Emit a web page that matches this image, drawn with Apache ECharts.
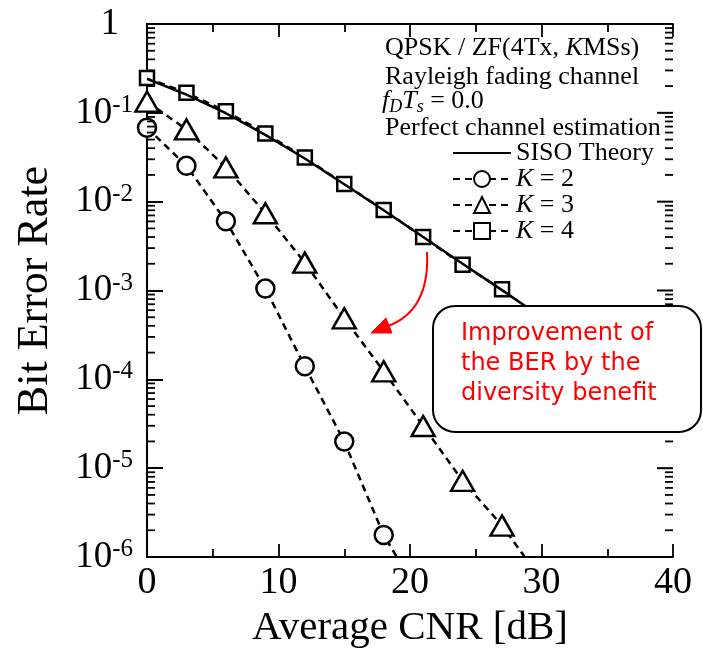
<!DOCTYPE html>
<html>
<head>
<meta charset="utf-8">
<script src="https://cdn.jsdelivr.net/npm/echarts@6/dist/echarts.min.js"></script>
<style>
html,body{margin:0;padding:0;background:#fff;}
#chart{width:703px;height:654px;}
</style>
</head>
<body>
<div id="chart"></div>
<script>
// ---- data ----
const cnrK = [0, 3, 6, 9, 12, 15, 18, 21, 24, 27, 30];
const berK2 = [0.068, 0.0253, 0.00603, 0.00105, 1.40e-4, 1.99e-5, 1.77e-6, 3.2e-7];
const berK3 = [0.134, 0.065, 0.0243, 0.0074, 0.00206, 4.86e-4, 1.23e-4, 2.98e-5, 7.2e-6, 2.26e-6, 5.5e-7];
const berK4 = [0.247, 0.168, 0.104, 0.0587, 0.0314, 0.0158, 0.00807, 0.00399, 0.00195, 0.00103];
const cnrTheory = [0, 3, 6, 9, 12, 15, 18, 21, 24, 27, 30, 33, 36, 40];
const berTheory = [0.242, 0.160, 0.099, 0.0565, 0.0306, 0.0157, 0.0080, 0.00400, 0.00200, 0.00101, 5.0e-4, 2.5e-4, 1.26e-4, 5.0e-5];
const xTicks = [0, 10, 20, 30, 40];
const yDecades = [1e-6, 1e-5, 1e-4, 1e-3, 1e-2, 1e-1, 1];

const seriesNames = ['SISO Theory', 'K = 2', 'K = 3', 'K = 4'];

function pairs(xs, ys) { return ys.map((y, i) => [xs[i], y]); }

const minorVals = [];
for (let k = -6; k <= -1; k++) {
  for (let m = 2; m <= 9; m++) minorVals.push(m * Math.pow(10, k));
}

const FONT = '"Liberation Serif", "Times New Roman", serif';

const chart = echarts.init(document.getElementById('chart'), null, {renderer: 'canvas'});

const markerStyle = {color: '#fff', borderColor: '#000', borderWidth: 2.5};
const dashStyle = {color: '#000', width: 2.5, type: [7, 5]};

const baseGraphic = [
  {type: 'text', left: 385, top: 35, z: 50, style: {text: 'QPSK / ZF(4Tx, {i|K}MSs)', fontFamily: FONT, fontSize: 26, fill: '#000',
    rich: {i: {fontFamily: FONT, fontSize: 26, fontStyle: 'italic', fill: '#000'}}}},
  {type: 'text', left: 385, top: 64, z: 50, style: {text: 'Rayleigh fading channel', fontFamily: FONT, fontSize: 26, fill: '#000'}},
  {type: 'text', left: 382, top: 88, z: 50, style: {
    text: '{i|f}{sub|D}{i|T}{sub|s}{n| = 0.0}', fontFamily: FONT, fontSize: 26, fill: '#000',
    rich: {
      i: {fontFamily: FONT, fontSize: 26, fontStyle: 'italic', fill: '#000', lineHeight: 30},
      sub: {fontFamily: FONT, fontSize: 18, fontStyle: 'italic', fill: '#000', verticalAlign: 'bottom', lineHeight: 30, padding: [10, 0, 0, 0]},
      n: {fontFamily: FONT, fontSize: 26, fill: '#000', lineHeight: 30}
    }}},
  {type: 'text', left: 385, top: 115, z: 50, style: {text: 'Perfect channel estimation', fontFamily: FONT, fontSize: 26, fill: '#000'}},
  {type: 'rect', z: 60, shape: {x: 433, y: 306, width: 268, height: 126, r: 22},
    style: {fill: '#fff', stroke: '#000', lineWidth: 2}},
  {type: 'text', left: 461, top: 319, z: 61, style: {
    text: 'Improvement of\nthe BER by the\ndiversity benefit',
    fontFamily: '"Comic Sans MS", "DejaVu Sans", sans-serif', fontSize: 24, lineHeight: 30, fill: '#ff0000'}},
  {type: 'bezierCurve', z: 60, shape: {x1: 427, y1: 252, cpx1: 429, cpy1: 292, cpx2: 415, cpy2: 316, x2: 388, y2: 326},
    style: {stroke: '#ff0000', lineWidth: 2, fill: null}},
  {type: 'polygon', z: 60, shape: {points: [[371, 333], [386, 318], [392, 333]]},
    style: {fill: '#ff0000', stroke: '#ff0000', lineWidth: 1}}
];

const option = {
  backgroundColor: '#fff',
  animation: false,
  grid: {left: 147, right: 30, top: 24, bottom: 94, containLabel: false},
  xAxis: [{
    type: 'value', min: 0, max: 40, interval: 10,
    name: 'Average CNR [dB]', nameLocation: 'middle', nameGap: 51,
    nameTextStyle: {fontFamily: FONT, fontSize: 41, color: '#000'},
    axisLine: {lineStyle: {color: '#000', width: 2}},
    axisTick: {inside: true, length: 13, lineStyle: {color: '#000', width: 1.8}},
    minorTick: {show: true, splitNumber: 2, length: 8, lineStyle: {color: '#000', width: 1.8}},
    axisLabel: {fontFamily: FONT, fontSize: 38, color: '#000', margin: 7,
      formatter: v => xTicks.includes(v) ? String(v) : ''},
    splitLine: {show: false}
  }, {
    type: 'value', min: 0, max: 40, interval: 10, position: 'top',
    axisLine: {lineStyle: {color: '#000', width: 2}},
    axisTick: {inside: true, length: 13, lineStyle: {color: '#000', width: 1.8}},
    minorTick: {show: true, splitNumber: 2, length: 8, lineStyle: {color: '#000', width: 1.8}},
    axisLabel: {show: false}, splitLine: {show: false}
  }],
  yAxis: [{
    type: 'log', min: 1e-6, max: 1,
    name: 'Bit Error Rate', nameLocation: 'middle', nameGap: 90,
    nameTextStyle: {fontFamily: FONT, fontSize: 44, color: '#000'},
    axisLine: {lineStyle: {color: '#000', width: 2}},
    axisTick: {show: true, inside: true, length: 16, lineStyle: {color: '#000', width: 2}},
    axisLabel: {
      margin: 14,
      formatter: function (v) {
        const e = Math.round(Math.log10(v));
        if (e === 0) return '{b|1}{p|}';
        return '{b|10}{s|' + e + '}';
      },
      rich: {
        b: {fontFamily: FONT, fontSize: 37, color: '#000', lineHeight: 40},
        s: {fontFamily: FONT, fontSize: 25, color: '#000', verticalAlign: 'top', lineHeight: 40, padding: [0, 0, 14, 0]},
        p: {width: 14}
      }
    },
    splitLine: {show: false}
  }, {
    type: 'log', min: 1e-6, max: 1, position: 'right',
    axisLine: {lineStyle: {color: '#000', width: 2}},
    axisTick: {show: false},
    axisLabel: {show: false}, splitLine: {show: false}
  }],
  legend: {
    data: seriesNames,
    orient: 'vertical',
    left: 452, top: 140,
    padding: 0,
    itemWidth: 58, itemHeight: 20, itemGap: 0,
    formatter: n => n.startsWith('K') ? '{i|K}' + n.slice(1) : n,
    textStyle: {
      fontFamily: FONT, fontSize: 26, color: '#000', lineHeight: 26,
      rich: {i: {fontFamily: FONT, fontSize: 26, fontStyle: 'italic', color: '#000', lineHeight: 26}}
    },
    selectedMode: false
  },
  series: [
    {
      name: 'K = 4', type: 'line', data: pairs(cnrK, berK4),
      symbol: 'rect', symbolSize: 14, lineStyle: dashStyle, itemStyle: markerStyle, z: 3
    },
    {
      name: 'SISO Theory', type: 'line', data: pairs(cnrTheory, berTheory),
      showSymbol: false, symbol: 'circle', symbolSize: 1,
      lineStyle: {color: '#000', width: 2.5}, itemStyle: {color: 'rgba(0,0,0,0)', borderWidth: 0}, z: 4
    },
    {
      name: 'K = 3', type: 'line', data: pairs(cnrK, berK3),
      symbol: 'triangle', symbolSize: [23, 20], lineStyle: dashStyle, itemStyle: markerStyle, z: 5
    },
    {
      name: 'K = 2', type: 'line', data: pairs(cnrK, berK2),
      symbol: 'circle', symbolSize: 18, lineStyle: dashStyle, itemStyle: markerStyle, z: 5
    }
  ],
  graphic: baseGraphic
};

chart.setOption(option);

// minor (2..9) and decade ticks on both log axes, placed through the axis scale
const tickEls = [];
function addTick(v, len, w, leftSide) {
  const pl = chart.convertToPixel({gridIndex: 0}, [0, v]);
  const pr = chart.convertToPixel({gridIndex: 0}, [40, v]);
  const st = {stroke: '#000', lineWidth: w};
  if (leftSide) tickEls.push({type: 'line', z: 40, shape: {x1: pl[0], y1: pl[1], x2: pl[0] + len, y2: pl[1]}, style: st});
  tickEls.push({type: 'line', z: 40, shape: {x1: pr[0] - len, y1: pr[1], x2: pr[0], y2: pr[1]}, style: st});
}
minorVals.forEach(v => addTick(v, 8, 1.8, true));
yDecades.forEach(v => addTick(v, 16, 2, false));
option.graphic = baseGraphic.concat(tickEls);
chart.setOption(option, true);
</script>
</body>
</html>
